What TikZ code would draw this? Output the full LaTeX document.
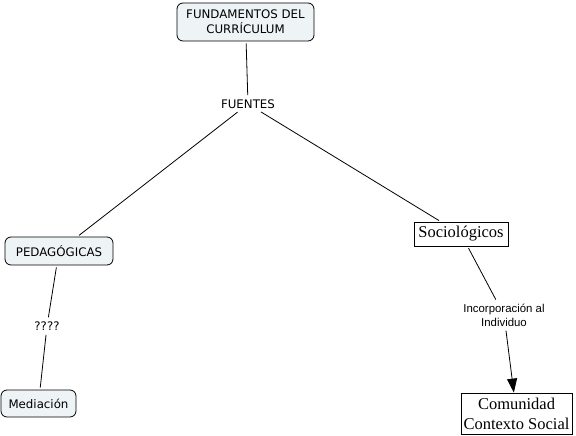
\documentclass[tikz,border=0pt]{standalone}
\usepackage{fontspec}
\setmainfont{Liberation Serif}
\setsansfont{DejaVu Sans}
\newfontfamily\arialfont{Liberation Sans}
\usetikzlibrary{arrows.meta, positioning}
\usepackage{xcolor}
\definecolor{conceptfill}{HTML}{EEF3F5}

\begin{document}
\begin{tikzpicture}[
  x=1pt, y=-1pt,
  line width=0.8pt,
  concept/.style={draw, rounded corners=6pt, fill=conceptfill, align=center, inner sep=2pt, font=\sffamily\fontsize{11.8}{15}\selectfont},
  plain/.style={align=center, inner sep=2pt, font=\sffamily\fontsize{11.8}{15}\selectfont},
  serifbox/.style={draw, align=center, inner sep=2pt, font=\rmfamily\fontsize{16.5}{20}\selectfont},
  link/.style={shorten <=2pt, shorten >=2pt},
  arrow/.style={-{Triangle[length=14pt, width=10pt]}, shorten <=2pt}
]
\useasboundingbox (0,0) rectangle (576,436);

\node[concept, minimum width=137pt, minimum height=38pt] (fund) at (245.5,22) {FUNDAMENTOS DEL\\CURRÍCULUM};
\node[plain] (fuentes) at (248,104) {FUENTES};
\node[concept, minimum width=108pt, minimum height=28pt] (pedag) at (59,251) {PEDAGÓGICAS};
\node[serifbox, minimum width=94pt, minimum height=24pt] (socio) at (461,234) {Sociológicos};
\node[plain] (preg) at (47,326) {????};
\node[concept, minimum width=75pt, minimum height=27pt] (media) at (38.5,403.5) {Mediación};
\node[plain, font=\arialfont\fontsize{11.4}{14}\selectfont] (incorp) at (504,315) {Incorporación al\\Individuo};
\node[serifbox, minimum width=111pt, minimum height=41pt] (comun) at (516.5,413.5) {Comunidad\\Contexto Social};

\draw[link] (fund) -- (fuentes);
\draw[link] (fuentes) -- (pedag);
\draw[link] (fuentes) -- (socio);
\draw[link] (pedag) -- (preg);
\draw[link] (preg) -- (media);
\draw[link] (socio) -- (incorp);
\draw[arrow] (incorp) -- (comun);

\end{tikzpicture}
\end{document}
